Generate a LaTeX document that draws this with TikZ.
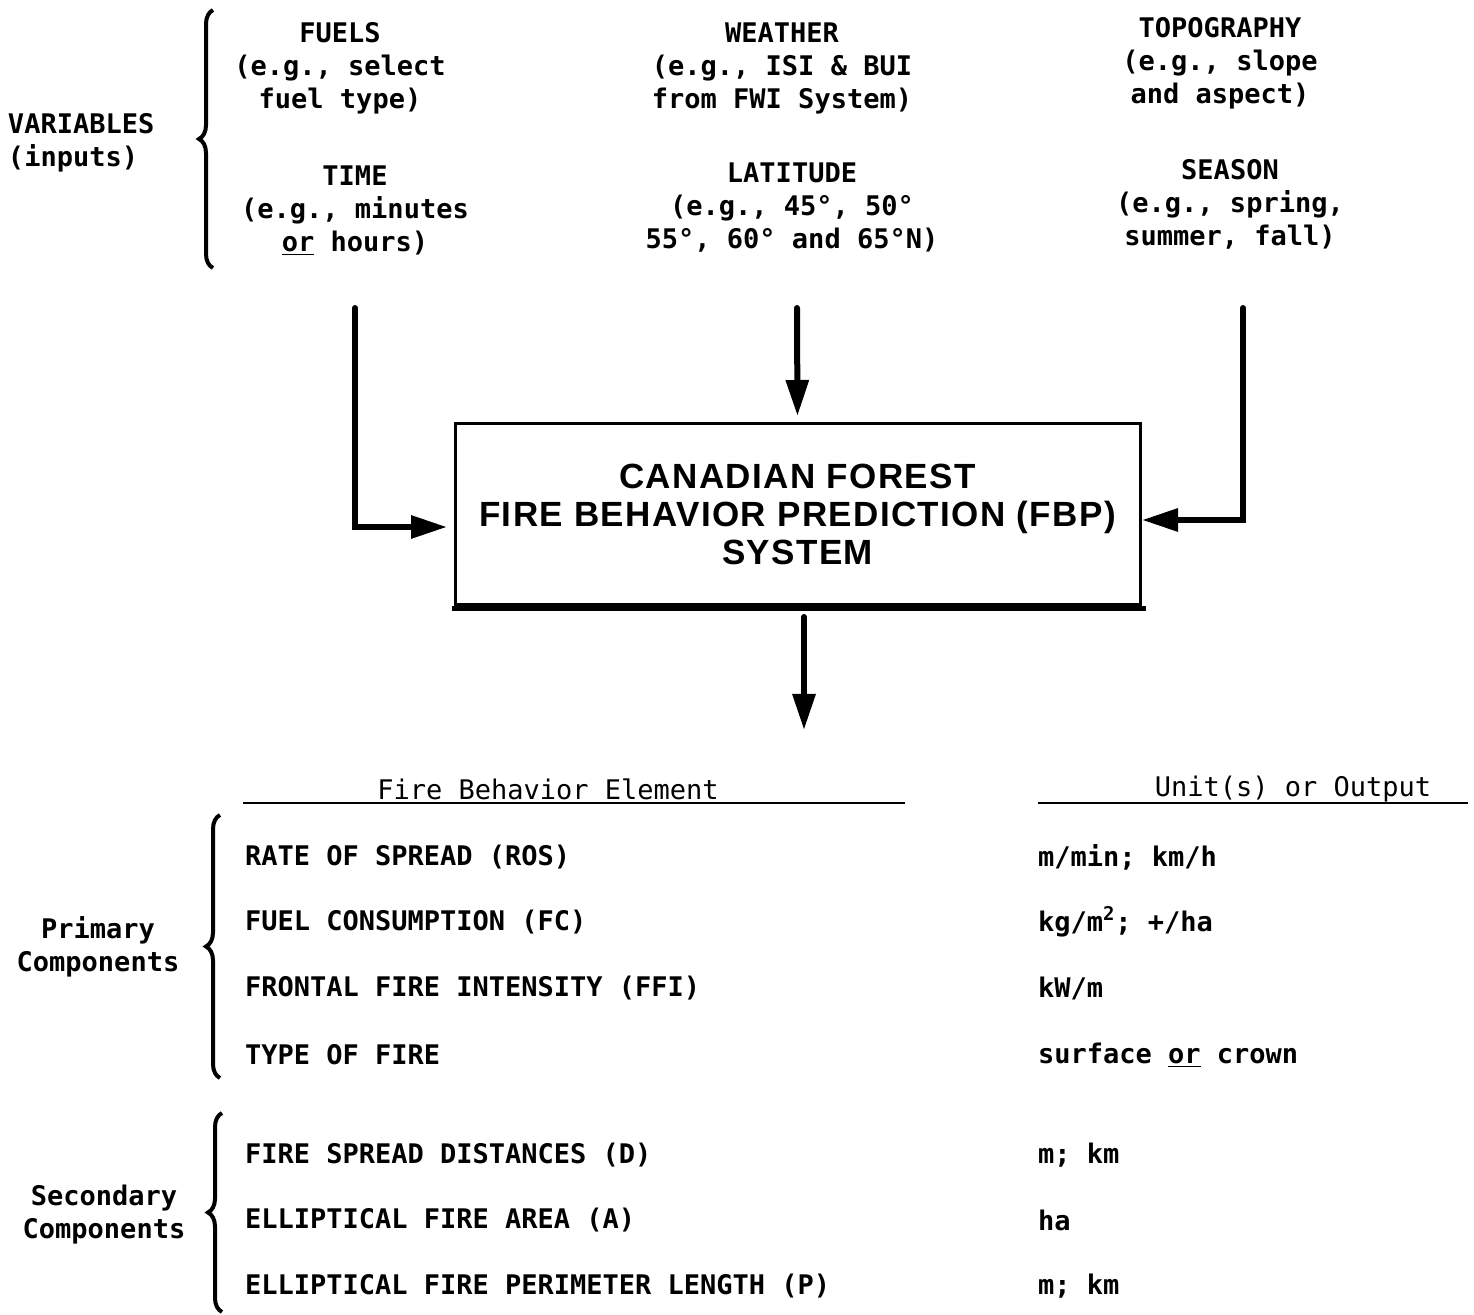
\documentclass[tikz,border=0pt]{standalone}
\usepackage{fontspec}
\newfontfamily\typer{DejaVu Sans Mono}
\newfontfamily\boxfont{Liberation Sans}[LetterSpace=4]
\usetikzlibrary{arrows.meta}
\usetikzlibrary{decorations.pathreplacing}

\begin{document}
\begin{tikzpicture}[
    x=0.5pt,y=-0.5pt,
    every node/.style={
        inner sep=0pt,
        outer sep=0pt,
    },
    typed/.style={
        font=\typer\bfseries\fontsize{13.5}{16.5}\selectfont,
        align=center,
    },
    header/.style={
        font=\typer\fontsize{13.5}{16.5}\selectfont,
    },
    elemtext/.style={
        typed,
        anchor=west,
        align=left,
    },
    sysbox/.style={
        draw,rectangle,
        line width=1.5pt,
        minimum width=342.5pt,
        minimum height=90.5pt,
        align=center,
        font=\boxfont\bfseries\fontsize{17.5}{19}\selectfont,
    },
    flow/.style={
        line width=3pt,
        line cap=round,
        shorten >=4pt,
        -{Triangle[length=18pt,width=11pt]},
    },
    curly/.style={
        decorate,
        line width=2pt,
        decoration={brace,amplitude=7pt},
    },
    rule/.style={
        line width=1.2pt,
    },
]
    % ~~~ one row of the table: name, y, element, unit ~~~~~~~~~~~~~~~~
    \newcommand\elem[4]{
        \node[elemtext] (#1) at (245,#2) {#3};
        \node[elemtext] (#1u) at (1038,#2) {#4};
    }

    \useasboundingbox (0,0) rectangle (1474,1315);

    % ~~~ inputs ~~~~~~~~~~~~~~~~~~~~~~~~~~~~~~~~~~~~~~~~~~~~~~~~~~~~~~
    \node[typed,anchor=west,align=left] (vars) at (8,143) {VARIABLES\\(inputs)};
    \draw[curly] (213,268) -- (213,10);

    \node[typed] (fuels)   at (340,68)   {FUELS\\(e.g., select\\fuel type)};
    \node[typed] (time)    at (355,211)  {TIME\\(e.g., minutes\\\underline{or} hours)};
    \node[typed] (weather) at (782,68)   {WEATHER\\(e.g., ISI \& BUI\\from FWI System)};
    \node[typed] (lat)     at (792,208)  {LATITUDE\\(e.g., 45°, 50°\\55°, 60° and 65°N)};
    \node[typed] (topo)    at (1220,63)  {TOPOGRAPHY\\(e.g., slope\\and aspect)};
    \node[typed] (season)  at (1230,204) {SEASON\\(e.g., spring,\\summer, fall)};

    % ~~~ the system ~~~~~~~~~~~~~~~~~~~~~~~~~~~~~~~~~~~~~~~~~~~~~~~~~~
    \node[sysbox] (fbp) at (797.5,514.5) {CANADIAN FOREST\\FIRE BEHAVIOR PREDICTION (FBP)\\SYSTEM};
    \draw[line width=2.5pt] ([xshift=-1.5pt,yshift=-2pt]fbp.south west)
        -- ([xshift=3pt,yshift=-2pt]fbp.south east);

    \coordinate (timein)   at (355,308);
    \coordinate (latin)    at (797,308);
    \coordinate (seasonin) at (1243,308);
    \coordinate (fbpout)   at (804,730);

    \draw[flow] (timein) |- (fbp.west |- 0,527);
    \draw[flow] (latin) -- (fbp.north);
    \draw[flow] (seasonin) |- ([xshift=-3pt]fbp.east |- 0,520);
    \draw[flow,shorten >=0pt] ([yshift=-6pt]fbp.south -| fbpout) -- (fbpout);

    % ~~~ outputs ~~~~~~~~~~~~~~~~~~~~~~~~~~~~~~~~~~~~~~~~~~~~~~~~~~~~~
    \node[header] (elemhead) at (548,789) {Fire Behavior Element};
    \node[header] (unithead) at (1293,789) {Unit(s) or Output};
    \draw[rule] (243,803) -- (905,803);
    \draw[rule] (1038,803) -- (1468,803);

    \elem{ros}{857}{RATE OF SPREAD (ROS)}{m/min; km/h}
    \elem{fc}{922}{FUEL CONSUMPTION (FC)}{kg/m\textsuperscript{2}; +/ha}
    \elem{ffi}{988}{FRONTAL FIRE INTENSITY (FFI)}{kW/m}
    \elem{tof}{1055}{TYPE OF FIRE}{surface \underline{or} crown}
    \elem{dist}{1155}{FIRE SPREAD DISTANCES (D)}{m; km}
    \elem{area}{1220}{ELLIPTICAL FIRE AREA (A)}{ha}
    \elem{perim}{1286}{ELLIPTICAL FIRE PERIMETER LENGTH (P)}{m; km}

    \node[typed] (primary)   at (98,947)   {Primary\\Components};
    \node[typed] (secondary) at (104,1215) {Secondary\\Components};
    \draw[curly] (220,1078) -- (220,815);
    \draw[curly] (222,1312) -- (222,1113);
\end{tikzpicture}
\end{document}
